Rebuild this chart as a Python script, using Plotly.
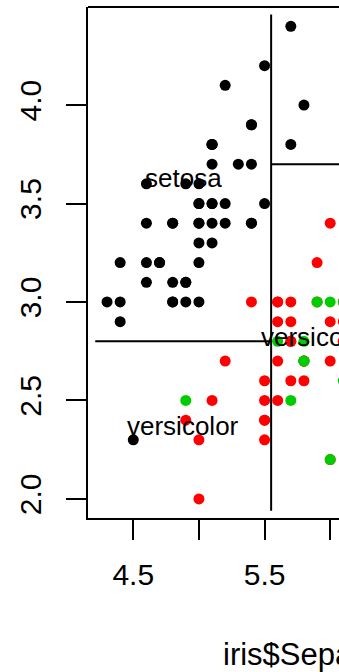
import plotly.graph_objects as go

# iris data: Sepal.Length / Sepal.Width by species
setosa_len = [5.1,4.9,4.7,4.6,5.0,5.4,4.6,5.0,4.4,4.9,5.4,4.8,4.8,4.3,5.8,5.7,5.4,5.1,5.7,5.1,
              5.4,5.1,4.6,5.1,4.8,5.0,5.0,5.2,5.2,4.7,4.8,5.4,5.2,5.5,4.9,5.0,5.5,4.9,4.4,5.1,
              5.0,4.5,4.4,5.0,5.1,4.8,5.1,4.6,5.3,5.0]
setosa_wid = [3.5,3.0,3.2,3.1,3.6,3.9,3.4,3.4,2.9,3.1,3.7,3.4,3.0,3.0,4.0,4.4,3.9,3.5,3.8,3.8,
              3.4,3.7,3.6,3.3,3.4,3.0,3.4,3.5,3.4,3.2,3.1,3.4,4.1,4.2,3.1,3.2,3.5,3.6,3.0,3.4,
              3.5,2.3,3.2,3.5,3.8,3.0,3.8,3.2,3.7,3.3]
versicolor_len = [7.0,6.4,6.9,5.5,6.5,5.7,6.3,4.9,6.6,5.2,5.0,5.9,6.0,6.1,5.6,6.7,5.6,5.8,6.2,5.6,
                  5.9,6.1,6.3,6.1,6.4,6.6,6.8,6.7,6.0,5.7,5.5,5.5,5.8,6.0,5.4,6.0,6.7,6.3,5.6,5.5,
                  5.5,6.1,5.8,5.0,5.6,5.7,5.7,6.2,5.1,5.7]
versicolor_wid = [3.2,3.2,3.1,2.3,2.8,2.8,3.3,2.4,2.9,2.7,2.0,3.0,2.2,2.9,2.9,3.1,3.0,2.7,2.2,2.5,
                  3.2,2.8,2.5,2.8,2.9,3.0,2.8,3.0,2.9,2.6,2.4,2.4,2.7,2.7,3.0,3.4,3.1,2.3,3.0,2.5,
                  2.6,3.0,2.6,2.3,2.7,3.0,2.9,2.9,2.5,2.8]
virginica_len = [6.3,5.8,7.1,6.3,6.5,7.6,4.9,7.3,6.7,7.2,6.5,6.4,6.8,5.7,5.8,6.4,6.5,7.7,7.7,6.0,
                 6.9,5.6,7.7,6.3,6.7,7.2,6.2,6.1,6.4,7.2,7.4,7.9,6.4,6.3,6.1,7.7,6.3,6.4,6.0,6.9,
                 6.7,6.9,5.8,6.8,6.7,6.7,6.3,6.5,6.2,5.9]
virginica_wid = [3.3,2.7,3.0,2.9,3.0,3.0,2.5,2.9,2.5,3.6,3.2,2.7,3.0,2.5,2.8,3.2,3.0,3.8,2.6,2.2,
                 3.2,2.8,2.8,2.7,3.3,3.2,2.8,3.0,2.8,3.0,2.8,3.8,2.8,2.8,2.6,3.0,3.4,3.1,3.0,3.1,
                 3.1,3.1,2.7,3.2,3.3,3.0,2.5,3.0,3.4,3.0]

# partition tree: split values, line spans and region labels
split_len_1 = 5.55
split_wid_1 = 2.8
split_wid_2 = 3.7
split_len_2 = 6.25
len_span = [4.21, 7.99]
wid_span = [1.94, 4.46]
region_labels = ["setosa", "versicolor", "versicolor"]
region_x = [4.88, 4.88, 5.90]
region_y = [3.63, 2.37, 2.82]

x_tickvals = [4.5, 5.0, 5.5, 6.0]
x_ticktext = ["4.5", "", "5.5", ""]
y_tickvals = [2.0, 2.5, 3.0, 3.5, 4.0]
y_ticktext = ["2.0", "2.5", "3.0", "3.5", "4.0"]

FONT = "Liberation Sans, Arial, sans-serif"

fig = go.Figure()
for xs, ys, col in [(setosa_len, setosa_wid, "#000000"),
                    (versicolor_len, versicolor_wid, "#FF0000"),
                    (virginica_len, virginica_wid, "#00CD00")]:
    fig.add_trace(go.Scatter(x=xs, y=ys, mode="markers",
                             marker=dict(size=11, color=col, line=dict(width=0)),
                             showlegend=False, hoverinfo="skip", cliponaxis=True))

line = dict(color="black", width=2)
fig.add_shape(type="line", x0=split_len_1, x1=split_len_1, y0=wid_span[0], y1=wid_span[1],
              xref="x", yref="y", line=line)
fig.add_shape(type="line", x0=len_span[0], x1=split_len_1, y0=split_wid_1, y1=split_wid_1,
              xref="x", yref="y", line=line)
fig.add_shape(type="line", x0=split_len_1, x1=split_len_2, y0=split_wid_2, y1=split_wid_2,
              xref="x", yref="y", line=line)
# top border of box
fig.add_shape(type="line", x0=0, x1=1, y0=1, y1=1, xref="paper", yref="paper",
              line=dict(color="black", width=2))

for t, xx, yy in zip(region_labels, region_x, region_y):
    fig.add_annotation(x=xx, y=yy, text=t, showarrow=False, xanchor="center", yanchor="middle",
                       font=dict(family=FONT, size=26, color="black"))

fig.add_annotation(x=5.168, y=-0.267, xref="x", yref="paper", text="iris$Sepal.Length",
                   showarrow=False, xanchor="left", yanchor="middle",
                   font=dict(family=FONT, size=31, color="black"))

fig.update_layout(
    width=339, height=672,
    margin=dict(l=88, r=0, t=7, b=154, pad=0),
    paper_bgcolor="white", plot_bgcolor="white",
    font=dict(family=FONT, color="black"),
    xaxis=dict(range=[4.155, 6.067], showgrid=False, zeroline=False,
               showline=True, linecolor="black", linewidth=2,
               ticks="outside", ticklen=20, tickwidth=2, tickcolor="black",
               tickvals=x_tickvals, ticktext=x_ticktext,
               tickfont=dict(family=FONT, size=30, color="black"),
               ticklabelstandoff=9),
    yaxis=dict(range=[1.903, 4.498], showgrid=False, zeroline=False,
               showline=True, linecolor="black", linewidth=2,
               ticks="outside", ticklen=20, tickwidth=2, tickcolor="black",
               tickvals=y_tickvals, ticktext=y_ticktext, tickangle=-90,
               tickfont=dict(family=FONT, size=30, color="black"),
               ticklabelstandoff=13),
)

fig.write_html("out.html", config={"displayModeBar": False},
               post_script="document.body.style.margin='0';document.body.style.overflow='hidden';")
